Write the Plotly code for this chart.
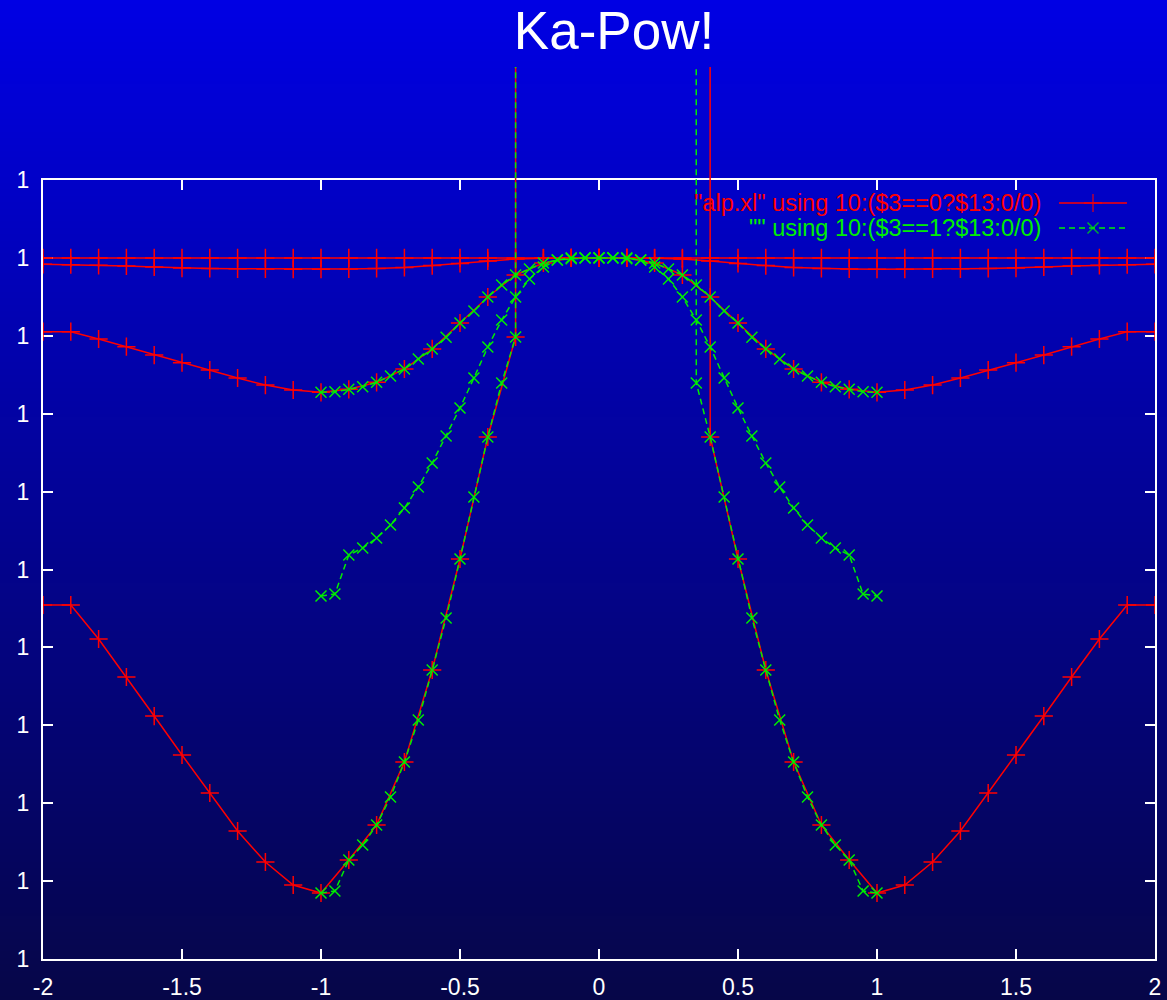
import zlib
import struct
import base64
import plotly.graph_objects as go

# ---------------- data ----------------
TITLE = "Ka-Pow!"
LEGEND_RED = '"alp.xl" using 10:($3==0?$13:0/0)'
LEGEND_GREEN = '"" using 10:($3==1?$13:0/0)'

X_TICK_VALS = [-2, -1.5, -1, -0.5, 0, 0.5, 1, 1.5, 2]
X_TICK_TEXT = ["-2", "-1.5", "-1", "-0.5", "0", "0.5", "1", "1.5", "2"]
Y_TICK_VALS = [0, 1, 2, 3, 4, 5, 6, 7, 8, 9, 10]
Y_TICK_TEXT = ["1", "1", "1", "1", "1", "1", "1", "1", "1", "1", "1"]

OFF = 1e4  # values far above the plotted range (drawn as near-vertical spikes)

X_RED = [-2.0, -1.9, -1.8, -1.7, -1.6, -1.5, -1.4, -1.3, -1.2, -1.1, -1.0,
         -0.9, -0.8, -0.7, -0.6, -0.5, -0.4, -0.3, -0.2, -0.1, 0.0,
         0.1, 0.2, 0.3, 0.4, 0.5, 0.6, 0.7, 0.8, 0.9, 1.0,
         1.1, 1.2, 1.3, 1.4, 1.5, 1.6, 1.7, 1.8, 1.9, 2.0]

RED_A = [9.0, 9.0, 9.0, 9.0, 9.0, 9.0, 9.0, 9.0, 9.0, 9.0, 9.0,
         9.0, 9.0, 9.0, 9.0, 9.0, 9.0, 9.0, 9.0, 9.0, 9.0,
         9.0, 9.0, 9.0, 9.0, 9.0, 9.0, 9.0, 9.0, 9.0, 9.0,
         9.0, 9.0, 9.0, 9.0, 9.0, 9.0, 9.0, 9.0, 9.0, 9.0]

RED_B = [8.917, 8.912, 8.905, 8.896, 8.883, 8.870, 8.864, 8.860, 8.858, 8.854, 8.854,
         8.858, 8.864, 8.877, 8.902, 8.928, 8.960, 8.986, 8.997, 9.0, 9.0,
         9.0, 8.997, 8.986, 8.960, 8.928, 8.902, 8.877, 8.864, 8.858, 8.854,
         8.854, 8.858, 8.860, 8.864, 8.870, 8.883, 8.896, 8.905, 8.912, 8.917]

RED_C = [8.053, 8.053, 7.959, 7.860, 7.753, 7.655, 7.561, 7.458, 7.368, 7.304, 7.275,
         7.313, 7.403, 7.574, 7.831, 8.164, 8.498, 8.781, 8.935, 9.0, 9.0,
         9.0, 8.935, 8.781, 8.498, 8.164, 7.831, 7.574, 7.403, 7.313, 7.275,
         7.304, 7.368, 7.458, 7.561, 7.655, 7.753, 7.860, 7.959, 8.053, 8.053]

RED_D = [4.544, 4.544, 4.108, 3.620, 3.119, 2.619, 2.131, 1.643, 1.245, 0.950, 0.847,
         1.271, 1.720, 2.529, 3.710, 5.135, 6.701, 7.985, OFF, OFF, OFF,
         OFF, OFF, OFF, 6.701, 5.135, 3.710, 2.529, 1.720, 1.271, 0.847,
         0.950, 1.245, 1.643, 2.131, 2.619, 3.119, 3.620, 4.108, 4.544, 4.544]

X_GREEN = [-1.0, -0.95, -0.9, -0.85, -0.8, -0.75, -0.7, -0.65, -0.6, -0.55, -0.5,
           -0.45, -0.4, -0.35, -0.3, -0.25, -0.2, -0.15, -0.1, -0.05, 0.0,
           0.05, 0.1, 0.15, 0.2, 0.25, 0.3, 0.35, 0.4, 0.45, 0.5,
           0.55, 0.6, 0.65, 0.7, 0.75, 0.8, 0.85, 0.9, 0.95, 1.0]

GREEN_1 = [7.275, 7.282, 7.313, 7.347, 7.403, 7.484, 7.574, 7.702, 7.831, 7.981, 8.164,
           8.318, 8.498, 8.652, 8.781, 8.858, 8.935, 8.973, 9.0, 9.0, 9.0,
           9.0, 9.0, 8.973, 8.935, 8.858, 8.781, 8.652, 8.498, 8.318, 8.164,
           7.981, 7.831, 7.702, 7.574, 7.484, 7.403, 7.347, 7.313, 7.282, 7.275]

GREEN_2 = [4.660, 4.685, 5.186, 5.276, 5.404, 5.571, 5.789, 6.059, 6.367, 6.714, 7.073,
           7.458, 7.856, 8.203, 8.498, 8.729, 8.883, 8.973, 8.990, 9.0, 9.0,
           9.0, 8.990, 8.973, 8.883, 8.729, 8.498, 8.203, 7.856, 7.458, 7.073,
           6.714, 6.367, 6.059, 5.789, 5.571, 5.404, 5.276, 5.186, 4.685, 4.660]

GREEN_3 = [0.847, 0.873, 1.271, 1.463, 1.720, 2.080, 2.529, 3.068, 3.710, 4.377, 5.135,
           5.931, 6.701, 7.394, 7.985, OFF, OFF, OFF, OFF, OFF, OFF,
           OFF, OFF, OFF, OFF, OFF, OFF, 7.394, 6.701, 5.931, 5.135,
           4.377, 3.710, 3.068, 2.529, 2.080, 1.720, 1.463, 1.271, 0.873, 0.847]

# ---------------- styling ----------------
W, H = 1167, 1000
ML, MR, MT, MB = 43, 12, 67, 41
PW, PH = W - ML - MR, H - MT - MB
FRAME_TOP_PX = 180
FRAME_FRAC = (H - MB - FRAME_TOP_PX) / PH
FONT = "Liberation Sans, Arial, Helvetica, sans-serif"
RED = "#ff0000"
GREEN = "#00ee00"
WHITE = "#ffffff"
TOP_COL = (0, 0, 228)
BOT_COL = (6, 6, 72)


def gradient_png(h, top, bot, w=2):
    raw = bytearray()
    for i in range(h):
        t = i / (h - 1)
        c = bytes(int(round(top[k] + (bot[k] - top[k]) * t)) for k in range(3))
        raw += b"\x00" + c * w

    def chunk(tag, data):
        return (struct.pack(">I", len(data)) + tag + data +
                struct.pack(">I", zlib.crc32(tag + data) & 0xffffffff))

    png = (b"\x89PNG\r\n\x1a\n" +
           chunk(b"IHDR", struct.pack(">IIBBBBB", w, h, 8, 2, 0, 0, 0)) +
           chunk(b"IDAT", zlib.compress(bytes(raw))) +
           chunk(b"IEND", b""))
    return "data:image/png;base64," + base64.b64encode(png).decode()


def series(xs, blocks):
    out_x, out_y = [], []
    for b in blocks:
        if out_x:
            out_x.append(None)
            out_y.append(None)
        out_x.extend(xs)
        out_y.extend(b)
    return out_x, out_y


fig = go.Figure()

# empty trace so the framed (visible) x/y subplot is created
fig.add_trace(go.Scatter(x=[], y=[], xaxis="x", yaxis="y", mode="markers",
                         showlegend=False, hoverinfo="skip"))

rx, ry = series(X_RED, [RED_A, RED_B, RED_C, RED_D])
gx, gy = series(X_GREEN, [GREEN_1, GREEN_2, GREEN_3])

fig.add_trace(go.Scatter(
    x=rx, y=ry, xaxis="x2", yaxis="y2", mode="lines+markers",
    line=dict(color=RED, width=1.5),
    marker=dict(symbol="cross-thin", size=13, line=dict(color=RED, width=1.5)),
    showlegend=False, hoverinfo="skip"))

fig.add_trace(go.Scatter(
    x=gx, y=gy, xaxis="x2", yaxis="y2", mode="lines+markers",
    line=dict(color=GREEN, width=1.5, dash="6px,4px"),
    marker=dict(symbol="x-thin", size=11, line=dict(color=GREEN, width=1.5)),
    showlegend=False, hoverinfo="skip"))

# legend keys (gnuplot style: text on the left, sample on the right)
LEG_TEXT_X = (1043 - ML) / PW
LEG_X0, LEG_XM, LEG_X1 = (1059 - ML) / PW, (1093 - ML) / PW, (1127 - ML) / PW
LEG_Y1 = (H - MB - 203) / PH
LEG_Y2 = (H - MB - 228) / PH

fig.add_trace(go.Scatter(
    x=[LEG_X0, LEG_XM, LEG_X1], y=[LEG_Y1, LEG_Y1, LEG_Y1], xaxis="x3", yaxis="y3",
    mode="lines+markers", line=dict(color=RED, width=1.5),
    marker=dict(symbol="cross-thin", size=[0, 13, 0], line=dict(color=RED, width=1.5)),
    showlegend=False, hoverinfo="skip"))
fig.add_trace(go.Scatter(
    x=[LEG_X0, LEG_XM, LEG_X1], y=[LEG_Y2, LEG_Y2, LEG_Y2], xaxis="x3", yaxis="y3",
    mode="lines+markers", line=dict(color=GREEN, width=1.5, dash="6px,4px"),
    marker=dict(symbol="x-thin", size=[0, 11, 0], line=dict(color=GREEN, width=1.5)),
    showlegend=False, hoverinfo="skip"))

axis_style = dict(
    ticks="inside", ticklen=10, tickwidth=2, tickcolor=WHITE,
    showline=True, linecolor=WHITE, linewidth=2, mirror="ticks",
    showgrid=False, zeroline=False, fixedrange=True, automargin=False,
    tickfont=dict(family=FONT, size=23, color=WHITE),
)

fig.update_layout(
    width=W, height=H, autosize=False,
    margin=dict(l=ML, r=MR, t=MT, b=MB, pad=0, autoexpand=False),
    paper_bgcolor="#000050",
    plot_bgcolor="rgba(0,0,0,0)",
    showlegend=False,
    xaxis=dict(domain=[0, 1], range=[-2, 2], anchor="y",
               tickmode="array", tickvals=X_TICK_VALS, ticktext=X_TICK_TEXT,
               ticklabelstandoff=6, **axis_style),
    yaxis=dict(domain=[0, FRAME_FRAC], range=[0, 10], anchor="x",
               tickmode="array", tickvals=Y_TICK_VALS, ticktext=Y_TICK_TEXT,
               ticklabelstandoff=7, **axis_style),
    xaxis2=dict(domain=[0, 1], range=[-2, 2], anchor="y2", visible=False, fixedrange=True),
    yaxis2=dict(domain=[0, 1], range=[0, 10 / FRAME_FRAC], anchor="x2", visible=False, fixedrange=True),
    xaxis3=dict(domain=[0, 1], range=[0, 1], anchor="y3", visible=False, fixedrange=True),
    yaxis3=dict(domain=[0, 1], range=[0, 1], anchor="x3", visible=False, fixedrange=True),
    images=[dict(
        source=gradient_png(H, TOP_COL, BOT_COL),
        xref="paper", yref="paper",
        x=-ML / PW, y=1 + MT / PH,
        sizex=W / PW, sizey=H / PH,
        xanchor="left", yanchor="top",
        sizing="stretch", layer="below")],
    title=dict(text=TITLE, x=614 / W, xref="container", xanchor="center",
               y=1 - 30 / H, yref="container", yanchor="middle",
               font=dict(family=FONT, size=53, color=WHITE)),
    annotations=[
        dict(text=LEGEND_RED, x=LEG_TEXT_X, y=LEG_Y1, xref="paper", yref="paper",
             xanchor="right", yanchor="middle", showarrow=False,
             font=dict(family=FONT, size=23.5, color=RED)),
        dict(text=LEGEND_GREEN, x=LEG_TEXT_X, y=LEG_Y2, xref="paper", yref="paper",
             xanchor="right", yanchor="middle", showarrow=False,
             font=dict(family=FONT, size=23.5, color=GREEN)),
    ],
)

fig.write_html(
    "out.html",
    config={"displayModeBar": False, "staticPlot": True},
    post_script="document.body.style.margin='0';document.body.style.padding='0';"
                "document.body.style.background='#000050';",
)
